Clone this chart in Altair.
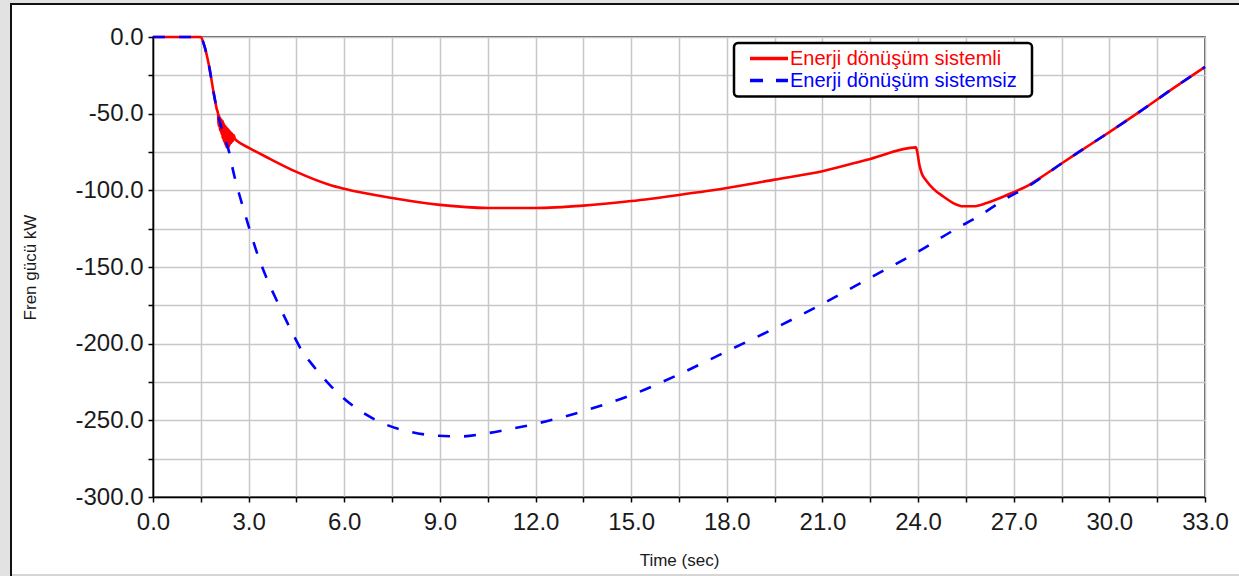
import altair as alt
import pandas as pd

# ---------------- data ----------------
series_names = ["Enerji dönüşüm sistemli", "Enerji dönüşüm sistemsiz"]
series_colors = ["#ff0000", "#0000ff"]

red_t = [0.0, 1.5, 1.6, 1.75, 1.9, 2.0,
         2.04, 2.06, 2.08, 2.10, 2.12, 2.14, 2.16, 2.18, 2.20, 2.22, 2.24, 2.26, 2.28,
         2.30, 2.32, 2.34, 2.36, 2.38, 2.40, 2.42, 2.44, 2.46, 2.48, 2.50, 2.53, 2.57,
         2.62, 3.04, 3.67, 4.5, 5.55,
         6.0, 7.5, 9.0, 10.5, 12.0, 13.5, 15.0, 16.5, 18.0, 19.5, 21.0, 22.5, 23.93,
         23.97, 24.04, 24.11, 24.27, 24.48, 24.79, 25.1, 25.42, 25.73, 26.15, 26.57,
         26.98, 27.4, 27.82, 28.5, 29.0, 30.0, 31.0, 32.0, 33.0]
red_v = [0.0, 0.0, -5, -18, -36, -47,
         -50, -58, -51, -61, -53, -63, -54, -66, -55, -68, -57, -70, -58,
         -72, -59, -71, -60, -72, -61, -70, -62, -69, -63, -68, -64, -66.5,
         -67.5, -72.6, -79.5, -88, -96.5,
         -99, -105, -109.5, -111.5, -111.5, -110, -107, -103, -98.5, -93, -87.5, -79.5, -72,
         -74.6, -83.3, -88.7, -94, -99, -104, -108.3, -110.4, -110.4, -108.3, -105,
         -101.3, -97.4, -92, -82.5, -75.6, -62, -48, -33.5, -19.5]

blue_t = [0.0, 1.5, 1.6, 1.75, 1.9, 2.0, 2.2, 2.4, 2.5, 2.78, 2.98, 3.25, 3.56, 3.93,
          4.35, 4.71, 4.97, 5.55, 6.18, 6.55, 7.22, 8.06, 8.9, 9.68, 10.46, 11.3, 12.14,
          13.5, 15.0, 16.5, 18.0, 19.5, 21.0, 22.5, 24.0, 25.2, 25.89, 26.67, 27.5,
          28.5, 29.0, 30.0, 31.0, 32.0, 33.0]
blue_v = [0.0, 0.0, -5, -18, -36, -47, -63, -76, -86, -108, -122, -140, -157, -174,
          -192, -206, -213, -227, -239, -244.5, -252, -257.5, -260, -260.5, -258.5, -255.3, -251.6,
          -244, -233.5, -220, -205, -190, -174, -157, -140, -125, -117, -106.5, -96.8,
          -82.5, -75.6, -62, -48, -33.5, -19.5]

x_tick_values = [0.0, 1.5, 3.0, 4.5, 6.0, 7.5, 9.0, 10.5, 12.0, 13.5, 15.0, 16.5, 18.0,
                 19.5, 21.0, 22.5, 24.0, 25.5, 27.0, 28.5, 30.0, 31.5, 33.0]
y_tick_values = [0, -25, -50, -75, -100, -125, -150, -175, -200, -225, -250, -275, -300]

red_df = pd.DataFrame({"t": red_t, "v": red_v})
blue_df = pd.DataFrame({"t": blue_t, "v": blue_v})
one = pd.DataFrame({"k": [0]})

FONT = "Liberation Sans"
W, H = 1052, 460

x_enc = alt.X(
    "t:Q",
    scale=alt.Scale(domain=[0, 33], nice=False, zero=False),
    axis=alt.Axis(
        values=x_tick_values,
        labelExpr="abs(datum.value/3 - round(datum.value/3)) < 0.001 ? format(datum.value, '.1f') : ''",
        title="Time (sec)",
        titleX=W / 2, titleY=63, titleAlign="center", titleBaseline="middle",
        labelPadding=8, labelFlush=False, labelOverlap=False, labelBound=False,
    ),
)
y_enc = alt.Y(
    "v:Q",
    scale=alt.Scale(domain=[-300, 0], nice=False, zero=False),
    axis=alt.Axis(
        values=y_tick_values,
        labelExpr="datum.value % 50 == 0 ? (datum.value < 0 ? '-' : '') + format(abs(datum.value), '.1f') : ''",
        title="Fren gücü kW",
        titleX=-123, titleY=H / 2, titleAngle=270, titleAlign="center", titleBaseline="middle",
        labelPadding=5, labelOverlap=False, labelFlush=False,
    ),
)

red_line = alt.Chart(red_df).mark_line(
    color=series_colors[0], strokeWidth=2.6, interpolate="monotone"
).encode(x=x_enc, y=y_enc)

blue_line = alt.Chart(blue_df).mark_line(
    color=series_colors[1], strokeWidth=2.6, strokeDash=[12, 14], interpolate="monotone"
).encode(x=x_enc, y=y_enc)

# ---------------- frame decoration (outside the plot area) ----------------
gray = "#e2e2e2"
left_strip = alt.Chart(one).mark_rect(color=gray).encode(
    x=alt.value(-153), x2=alt.value(-143), y=alt.value(-37), y2=alt.value(539))
top_strip = alt.Chart(one).mark_rect(color=gray).encode(
    x=alt.value(-153), x2=alt.value(1086), y=alt.value(-37), y2=alt.value(-34))
bottom_strip = alt.Chart(one).mark_rect(color="#d6d6d6").encode(
    x=alt.value(-143), x2=alt.value(1086), y=alt.value(537), y2=alt.value(539))
left_border = alt.Chart(one).mark_rule(color="#111111", strokeWidth=2).encode(
    x=alt.value(-142), y=alt.value(-34), y2=alt.value(539))
top_border = alt.Chart(one).mark_rule(color="#111111", strokeWidth=2).encode(
    x=alt.value(-143), x2=alt.value(1086), y=alt.value(-33))

# ---------------- legend ----------------
legend_box = alt.Chart(one).mark_rect(
    fill="white", stroke="black", strokeWidth=2.5, cornerRadius=4
).encode(x=alt.value(581), x2=alt.value(879), y=alt.value(6), y2=alt.value(59.5))

legend_layers = [legend_box]
legend_rows_y = [21.5, 43.5]
for i, name in enumerate(series_names):
    d = pd.DataFrame({"name": [name]})
    rule_kwargs = dict(color=series_colors[i], strokeWidth=3.5)
    if i == 1:
        rule_kwargs["strokeDash"] = [13, 13]
    legend_layers.append(
        alt.Chart(d).mark_rule(**rule_kwargs).encode(
            x=alt.value(597), x2=alt.value(635), y=alt.value(legend_rows_y[i]))
    )
    legend_layers.append(
        alt.Chart(d).mark_text(
            align="left", baseline="middle", font=FONT, fontSize=20, color=series_colors[i]
        ).encode(text="name:N", x=alt.value(637), y=alt.value(legend_rows_y[i]))
    )

chart = alt.layer(
    left_strip, top_strip, bottom_strip, left_border, top_border,
    red_line, blue_line, *legend_layers
).properties(
    width=W, height=H,
    autosize=alt.AutoSizeParams(type="none"),
    padding={"left": 153, "top": 37, "right": 34, "bottom": 79},
    background="white",
).configure_view(
    stroke="#222222", strokeWidth=1.5
).configure_axis(
    grid=True, gridColor="#c8c8c8", gridWidth=1.5,
    domainColor="#000000", domainWidth=1.5,
    tickColor="#000000", tickSize=5, tickWidth=1.5,
    labelFont=FONT, labelFontSize=24, labelColor="#1a1a1a",
    titleFont=FONT, titleFontSize=17, titleFontWeight="normal", titleColor="#1a1a1a",
)

chart.save("out.html", embed_options={"renderer": "svg", "actions": False})
